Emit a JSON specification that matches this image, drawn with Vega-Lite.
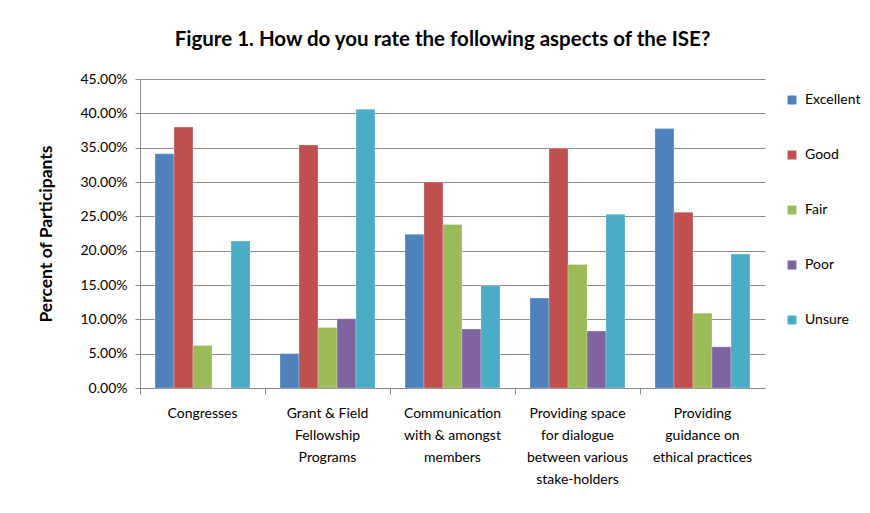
{
  "$schema": "https://vega.github.io/schema/vega-lite/v6.json",
  "width": 625,
  "height": 309,
  "autosize": {"type": "none"},
  "padding": {"left": 140, "top": 79, "right": 105, "bottom": 125},
  "background": "white",
  "title": {
    "text": "Figure 1. How do you rate the following aspects of the ISE?",
    "font": "Lato",
    "fontSize": 20.5,
    "fontWeight": "bold",
    "color": "black",
    "anchor": "middle",
    "dx": -10,
    "offset": 22
  },
  "data": {
    "values": [
      {"aspect": "Congresses", "rating": "Excellent", "pct": 0.341},
      {"aspect": "Congresses", "rating": "Good", "pct": 0.380},
      {"aspect": "Congresses", "rating": "Fair", "pct": 0.062},
      {"aspect": "Congresses", "rating": "Poor", "pct": 0.0},
      {"aspect": "Congresses", "rating": "Unsure", "pct": 0.214},
      {"aspect": "Grant & Field Fellowship Programs", "rating": "Excellent", "pct": 0.050},
      {"aspect": "Grant & Field Fellowship Programs", "rating": "Good", "pct": 0.354},
      {"aspect": "Grant & Field Fellowship Programs", "rating": "Fair", "pct": 0.088},
      {"aspect": "Grant & Field Fellowship Programs", "rating": "Poor", "pct": 0.101},
      {"aspect": "Grant & Field Fellowship Programs", "rating": "Unsure", "pct": 0.406},
      {"aspect": "Communication with & amongst members", "rating": "Excellent", "pct": 0.224},
      {"aspect": "Communication with & amongst members", "rating": "Good", "pct": 0.300},
      {"aspect": "Communication with & amongst members", "rating": "Fair", "pct": 0.238},
      {"aspect": "Communication with & amongst members", "rating": "Poor", "pct": 0.086},
      {"aspect": "Communication with & amongst members", "rating": "Unsure", "pct": 0.149},
      {"aspect": "Providing space for dialogue between various stake-holders", "rating": "Excellent", "pct": 0.131},
      {"aspect": "Providing space for dialogue between various stake-holders", "rating": "Good", "pct": 0.349},
      {"aspect": "Providing space for dialogue between various stake-holders", "rating": "Fair", "pct": 0.180},
      {"aspect": "Providing space for dialogue between various stake-holders", "rating": "Poor", "pct": 0.083},
      {"aspect": "Providing space for dialogue between various stake-holders", "rating": "Unsure", "pct": 0.253},
      {"aspect": "Providing guidance on ethical practices", "rating": "Excellent", "pct": 0.378},
      {"aspect": "Providing guidance on ethical practices", "rating": "Good", "pct": 0.256},
      {"aspect": "Providing guidance on ethical practices", "rating": "Fair", "pct": 0.109},
      {"aspect": "Providing guidance on ethical practices", "rating": "Poor", "pct": 0.060},
      {"aspect": "Providing guidance on ethical practices", "rating": "Unsure", "pct": 0.195}
    ]
  },
  "mark": {"type": "bar", "stroke": "white", "strokeOpacity": 0.5, "strokeWidth": 0.5},
  "encoding": {
    "x": {
      "field": "aspect",
      "type": "nominal",
      "sort": null,
      "scale": {"paddingInner": 0, "paddingOuter": 0},
      "axis": {
        "title": null,
        "labelAngle": 0,
        "bandPosition": 0,
        "labelFont": "Lato",
        "labelFontSize": 14,
        "labelColor": "black",
        "labelLineHeight": 22,
        "labelPadding": 12,
        "labelBaseline": "top",
        "labelLimit": 0,
        "domainColor": "#888888",
        "tickColor": "#888888",
        "tickSize": 6,
        "grid": false,
        "labelExpr": "datum.value == 'Grant & Field Fellowship Programs' ? ['Grant & Field', 'Fellowship', 'Programs'] : datum.value == 'Communication with & amongst members' ? ['Communication', 'with & amongst', 'members'] : datum.value == 'Providing space for dialogue between various stake-holders' ? ['Providing space', 'for dialogue', 'between various', 'stake-holders'] : datum.value == 'Providing guidance on ethical practices' ? ['Providing', 'guidance on', 'ethical practices'] : datum.value"
      }
    },
    "xOffset": {
      "field": "rating",
      "type": "nominal",
      "sort": ["Excellent", "Good", "Fair", "Poor", "Unsure"],
      "scale": {"paddingInner": 0, "paddingOuter": 0.79}
    },
    "y": {
      "field": "pct",
      "type": "quantitative",
      "scale": {"domain": [0, 0.45], "nice": false},
      "axis": {
        "title": "Percent of Participants",
        "titleFont": "Lato",
        "titleFontSize": 17.5,
        "titleFontWeight": "bold",
        "titleColor": "black",
        "titlePadding": 24,
        "format": ".2%",
        "values": [0, 0.05, 0.1, 0.15, 0.2, 0.25, 0.3, 0.35, 0.4, 0.45],
        "labelOverlap": false,
        "labelFont": "Lato",
        "labelFontSize": 14,
        "labelColor": "black",
        "labelPadding": 8,
        "domainColor": "#888888",
        "tickColor": "#888888",
        "tickSize": 5,
        "gridColor": "#8c8c8c",
        "gridWidth": 1
      }
    },
    "color": {
      "field": "rating",
      "type": "nominal",
      "sort": ["Excellent", "Good", "Fair", "Poor", "Unsure"],
      "scale": {
        "domain": ["Excellent", "Good", "Fair", "Poor", "Unsure"],
        "range": ["#4F81BD", "#C0504D", "#9BBB59", "#8064A2", "#4BACC6"]
      },
      "legend": {
        "title": null,
        "orient": "none",
        "legendX": 645,
        "legendY": 14,
        "symbolType": "square",
        "symbolSize": 80,
        "symbolStrokeWidth": 0,
        "labelFont": "Lato",
        "labelFontSize": 14,
        "labelColor": "black",
        "rowPadding": 41,
        "labelOffset": 6
      }
    }
  },
  "config": {
    "view": {"stroke": null}
  }
}
